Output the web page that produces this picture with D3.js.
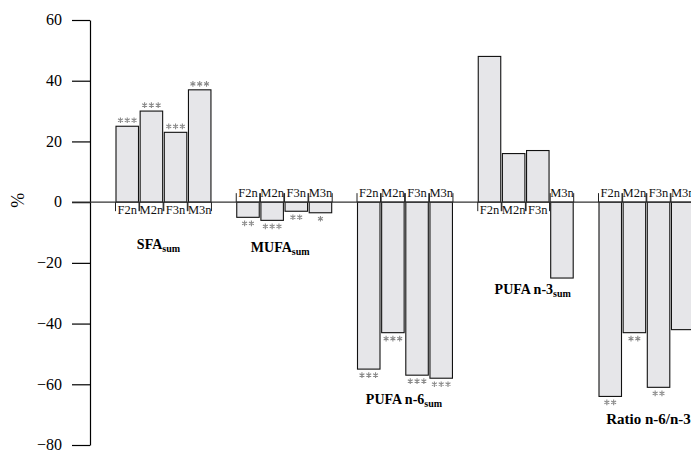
<!DOCTYPE html>
<html>
<head>
<meta charset="utf-8">
<script src="https://cdn.jsdelivr.net/npm/d3@7/dist/d3.min.js"></script>
<style>
  body { margin: 0; background: #fff; }
  svg { font-family: "Liberation Serif", "Times New Roman", serif; }
</style>
</head>
<body>
<svg id="chart" width="691" height="451"></svg>
<script>
// fatty acid groups and bars inside each group
const groupNames = ["SFA", "MUFA", "PUFA n-6", "PUFA n-3", "Ratio n-6/n-3"];
const groupSubs  = ["sum", "sum", "sum", "sum", ""];
const barLabels  = ["F2n", "M2n", "F3n", "M3n"];

// % change, order F2n, M2n, F3n, M3n
const sfaValues   = [25, 30, 23, 37];
const mufaValues  = [-5, -6, -3, -3.5];
const n6Values    = [-55, -43, -57, -58];
const n3Values    = [48, 16, 17, -25];
const ratioValues = [-64, -43, -61, -42];

// significance marks (number of stars)
const sfaStars   = [3, 3, 3, 3];
const mufaStars  = [2, 3, 2, 1];
const n6Stars    = [3, 3, 3, 3];
const n3Stars    = [0, 0, 0, 0];
const ratioStars = [2, 2, 2, 0];

const yTicks = [-80, -60, -40, -20, 0, 20, 40, 60];

const allValues = [sfaValues, mufaValues, n6Values, n3Values, ratioValues];
const allStars  = [sfaStars, mufaStars, n6Stars, n3Stars, ratioStars];

// layout bits (group label placement)
const labelY  = [249, 252, 404, 294, 424];
const labelDx = [-5, -4, -1, 7, 2];

const svg = d3.select("#chart");
const slotsPerGroup = 5;
const barW = 22.5;

const x = d3.scaleLinear().domain([0, 25]).range([116, 116 + 25 * 24.15]);
const y = d3.scaleLinear().domain([-80, 60]).range([445, 20]);

// flat list of bars
const bars = [];
allValues.forEach((vals, g) => {
  vals.forEach((v, i) => {
    bars.push({ g: g, i: i, slot: g * slotsPerGroup + i, value: v, label: barLabels[i], stars: allStars[g][i] });
  });
});

// y axis
const yAxis = svg.append("g")
  .attr("transform", "translate(90,0)")
  .call(d3.axisLeft(y).tickValues(yTicks).tickSize(18).tickSizeOuter(0).tickPadding(10).tickFormat(d3.format("d")));
yAxis.select(".domain").attr("stroke", "#000").attr("stroke-width", 1.2);
yAxis.selectAll(".tick line").attr("stroke", "#000").attr("stroke-width", 1.2);
yAxis.selectAll(".tick text")
  .attr("fill", "#000")
  .attr("dy", "0.3em")
  .style("font-family", "'Liberation Serif', serif")
  .style("font-size", "16px");

svg.append("text")
  .attr("transform", `translate(24,${y(0) - 2}) rotate(-90)`)
  .attr("text-anchor", "middle")
  .style("font-size", "18px")
  .text("%");

// bars
svg.append("g").selectAll("rect")
  .data(bars)
  .join("rect")
  .attr("x", d => x(d.slot))
  .attr("y", d => y(Math.max(0, d.value)))
  .attr("width", barW)
  .attr("height", d => Math.abs(y(d.value) - y(0)))
  .attr("fill", "#e6e6e9")
  .attr("stroke", "#111")
  .attr("stroke-width", 1.1);

// zero line
svg.append("line")
  .attr("x1", 72).attr("x2", 691)
  .attr("y1", y(0)).attr("y2", y(0))
  .attr("stroke", "#333").attr("stroke-width", 1.2);

// bracket ticks at bar edges, on the label side
const brackets = svg.append("g").attr("stroke", "#222").attr("stroke-width", 1);
bars.forEach(d => {
  const dir = d.value >= 0 ? 1 : -1;
  [x(d.slot) - 0.5, x(d.slot) + barW + 0.5].forEach(px => {
    brackets.append("line")
      .attr("x1", px).attr("x2", px)
      .attr("y1", y(0)).attr("y2", y(0) + dir * 9);
  });
});

// bar labels
svg.append("g").selectAll("text")
  .data(bars)
  .join("text")
  .attr("x", d => x(d.slot) + barW / 2)
  .attr("y", d => d.value >= 0 ? y(0) + 12 : y(0) - 5)
  .attr("text-anchor", "middle")
  .style("font-size", "12.5px")
  .attr("fill", "#111")
  .text(d => d.label);

// significance stars as asterisk symbols
const star = d3.symbol().type(d3.symbolAsterisk).size(22);
const starGap = 6.8;
const starData = [];
bars.forEach(d => {
  for (let k = 0; k < d.stars; k++) {
    starData.push({
      cx: x(d.slot) + barW / 2 + (k - (d.stars - 1) / 2) * starGap,
      cy: d.value >= 0 ? y(d.value) - 6 : y(d.value) + 6
    });
  }
});
svg.append("g").selectAll("path")
  .data(starData)
  .join("path")
  .attr("transform", d => `translate(${d.cx},${d.cy})`)
  .attr("d", star)
  .attr("fill", "none")
  .attr("stroke", "#8a8a8a")
  .attr("stroke-width", 1.1);

// group labels
groupNames.forEach((name, g) => {
  const cx = (x(g * slotsPerGroup) + x(g * slotsPerGroup + 3) + barW) / 2 + labelDx[g];
  const t = svg.append("text")
    .attr("x", cx)
    .attr("y", labelY[g])
    .attr("text-anchor", "middle")
    .style("font-size", g === 4 ? "15px" : "14px")
    .style("font-weight", "bold");
  t.append("tspan").text(name);
  if (groupSubs[g]) {
    t.append("tspan").attr("dy", 3).style("font-size", "10px").text(groupSubs[g]);
  }
});
</script>
</body>
</html>
